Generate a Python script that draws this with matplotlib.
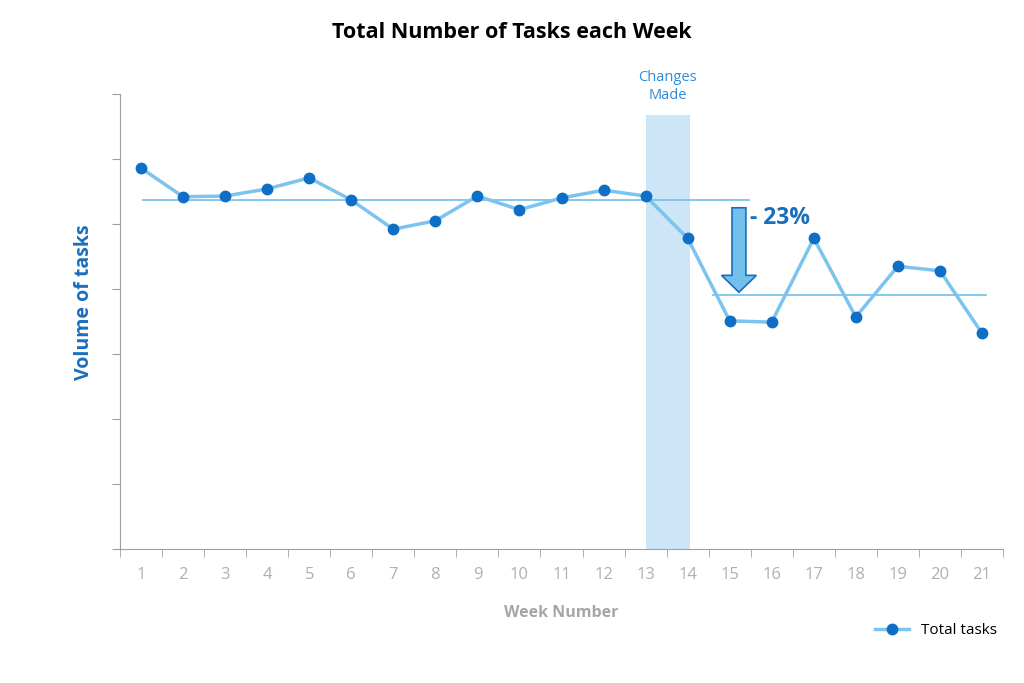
import matplotlib
matplotlib.use("Agg")
import matplotlib.pyplot as plt
from matplotlib.patches import FancyArrow

weeks = list(range(1, 22))
total_tasks = [5.86, 5.42, 5.43, 5.54, 5.71, 5.37, 4.92, 5.05, 5.43, 5.22, 5.40,
               5.52, 5.43, 4.78, 3.51, 3.49, 4.78, 3.57, 4.35, 4.28, 3.32]
mean_before = 5.37
mean_after = 3.91
change_label = "- 23%"

LINE = "#7cc4ee"
DOT = "#0f6fc6"
DARK = "#1a6fbd"
GREY = "#a6a6a6"

plt.rcParams['font.family'] = ['Open Sans', 'DejaVu Sans']

fig = plt.figure(figsize=(10.24, 6.83), dpi=100)
ax = fig.add_axes([120/1024, 1-549/683, (1003-120)/1024, (549-94)/683])

ax.set_xlim(0.5, 21.5)
ax.set_ylim(0, 7)

# shaded band
ax.axvspan(13.0, 14.05, ymin=0, ymax=(549-115)/455, color="#cce6f8", zorder=0, lw=0)

# mean lines
ax.plot([1.05, 15.45], [mean_before, mean_before], color=LINE, lw=1.3, zorder=2)
ax.plot([14.6, 21.1], [mean_after, mean_after], color=LINE, lw=1.3, zorder=2)

ax.plot(weeks, total_tasks, color=LINE, lw=2.5, marker="o", markersize=7.5,
        markerfacecolor=DOT, markeredgecolor=DOT, label="Total tasks", zorder=3)

# arrow
arr = FancyArrow(15.22, 5.25, 0, -(5.25 - 3.95), width=0.33, head_width=0.83,
                 head_length=0.26, length_includes_head=True, fc="#74c0ec",
                 ec="#1a6fbd", lw=1.2, zorder=4)
ax.add_patch(arr)
ax.text(15.48, 5.1, change_label, color=DARK, fontsize=16.5, fontweight="bold",
        ha="left", va="center")

ax.text(13.52, 6.86, "Changes\nMade", color="#2e8ad8", fontsize=10.5,
        ha="center", va="bottom", linespacing=1.25, clip_on=False)

# axes styling
for s in ["top", "right"]:
    ax.spines[s].set_visible(False)
ax.spines["left"].set_color("#a0a0a0")
ax.spines["bottom"].set_color("#a0a0a0")
ax.set_yticks(range(0, 8))
ax.set_yticklabels([])
ax.tick_params(axis="y", direction="out", length=6, color="#a0a0a0")
ax.set_xticks(weeks)
ax.set_xticklabels([str(w) for w in weeks], color="#b0b0b0", fontsize=12)
ax.tick_params(axis="x", length=0, pad=13)
ax.set_xticks([w + 0.5 for w in range(0, 22)], minor=True)
ax.tick_params(axis="x", which="minor", direction="out", length=6, color="#a0a0a0")

ax.set_xlabel("Week Number", color=GREY, fontsize=11.5, fontweight="bold", labelpad=16)
ax.set_ylabel("Volume of tasks", color=DARK, fontsize=14, fontweight="bold")
ax.yaxis.set_label_coords(-0.029, 0.543)

fig.text(0.5, 1-32/683, "Total Number of Tasks each Week", ha="center", va="center",
         fontsize=15.5, fontweight="bold", color="black")

ax.legend(loc="lower right", bbox_to_anchor=(1.0, -0.21), frameon=False, fontsize=11,
          handlelength=2.2, borderaxespad=0)

fig.savefig("out.png", dpi=100)
